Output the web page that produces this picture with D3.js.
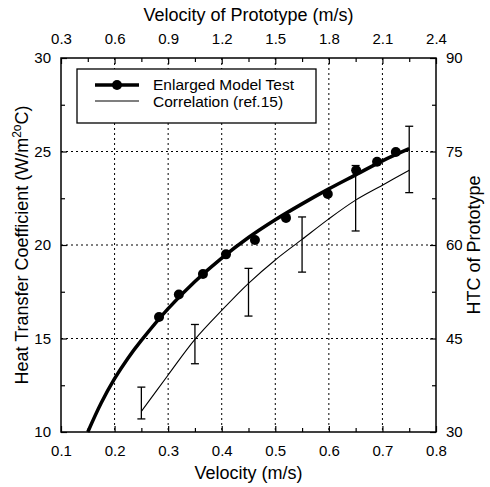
<!DOCTYPE html>
<html lang="en">
<head>
<meta charset="utf-8">
<title>Heat Transfer Coefficient vs Velocity</title>
<script src="https://cdn.jsdelivr.net/npm/d3@7"></script>
<style>
body { margin:0; background:#fff; }
text { font-family: "Liberation Sans", Arial, sans-serif; fill:#000; }
.grid { stroke:#000; stroke-width:1; stroke-dasharray:2,3; }
</style>
</head>
<body>
<div id="main"></div>
<script>

// measured test points (model)
var testV   = [0.283, 0.32, 0.365, 0.408, 0.462, 0.52, 0.598, 0.651, 0.69, 0.725]
var testHTC = [16.15, 17.35, 18.45, 19.5, 20.27, 21.45, 22.73, 24.0, 24.45, 24.97]

// fitted curve through the test data
var fitV   = [0.15, 0.175, 0.2, 0.225, 0.25, 0.3, 0.35, 0.4, 0.45, 0.5, 0.55, 0.6, 0.65, 0.7, 0.75]
var fitHTC = [10.0, 11.55, 12.85, 13.95, 14.9, 16.6, 18.05, 19.3, 20.4, 21.35, 22.2, 23.0, 23.75, 24.5, 25.15]

// correlation (ref.15)
var corV   = [0.25, 0.3, 0.35, 0.4, 0.45, 0.5, 0.55, 0.6, 0.65, 0.7, 0.75]
var corHTC = [11.1, 13.05, 14.95, 16.5, 17.95, 19.2, 20.3, 21.4, 22.4, 23.2, 24.0]

// error bars on the correlation
var errV    = [0.25, 0.35, 0.45, 0.55, 0.65, 0.75]
var errLow  = [10.7, 13.65, 16.2, 18.55, 20.75, 22.8]
var errHigh = [12.4, 15.75, 18.75, 21.5, 24.25, 26.35]

var xTicks = [0.1, 0.2, 0.3, 0.4, 0.5, 0.6, 0.7, 0.8]
var yTicks = [10, 15, 20, 25, 30]
var topTicks = [0.3, 0.6, 0.9, 1.2, 1.5, 1.8, 2.1, 2.4]
var rightTicks = [30, 45, 60, 75, 90]

var W = 490, H = 487
var L = 61, R = 436, T = 58, B = 432

var svg = d3.select("#main").append("svg").attr("width",W).attr("height",H)

var x = d3.scaleLinear().domain([0.1,0.8]).range([L,R])
var y = d3.scaleLinear().domain([10,30]).range([B,T])
var xTop = d3.scaleLinear().domain([0.3,2.4]).range([L,R])
var yRight = d3.scaleLinear().domain([30,90]).range([B,T])

// grid
var gx = [0.2,0.3,0.4,0.5,0.6,0.7]
var gy = [15,20,25]
svg.selectAll("line.gv").data(gx).enter().append("line").attr("class","grid")
  .attr("x1",function(d){return x(d)}).attr("x2",function(d){return x(d)})
  .attr("y1",T).attr("y2",B)
svg.selectAll("line.gh").data(gy).enter().append("line").attr("class","grid")
  .attr("y1",function(d){return y(d)}).attr("y2",function(d){return y(d)})
  .attr("x1",L).attr("x2",R)

// axes
function mids(arr){ var m=[]; for(var i=0;i<arr.length-1;i++) m.push((arr[i]+arr[i+1])/2); return m }

function styleAxis(g){
  g.select(".domain").remove()
  g.selectAll("line").attr("stroke","#000").attr("stroke-width",1.2)
  g.selectAll("text").style("font-size","15px")
}

svg.append("g").attr("transform","translate(0,"+B+")")
  .call(d3.axisBottom(x).tickValues(xTicks).tickSize(-6).tickPadding(13).tickFormat(d3.format(".1f")))
  .call(styleAxis)
svg.append("g").attr("transform","translate(0,"+B+")")
  .call(d3.axisBottom(x).tickValues(mids(xTicks)).tickSize(-4).tickFormat(""))
  .call(styleAxis)

svg.append("g").attr("transform","translate(0,"+T+")")
  .call(d3.axisTop(xTop).tickValues(topTicks).tickSize(-6).tickPadding(14).tickFormat(d3.format(".1f")))
  .call(styleAxis)
svg.append("g").attr("transform","translate(0,"+T+")")
  .call(d3.axisTop(xTop).tickValues(mids(topTicks)).tickSize(-4).tickFormat(""))
  .call(styleAxis)

svg.append("g").attr("transform","translate("+L+",0)")
  .call(d3.axisLeft(y).tickValues(yTicks).tickSize(-6).tickPadding(10))
  .call(styleAxis)
svg.append("g").attr("transform","translate("+L+",0)")
  .call(d3.axisLeft(y).tickValues(mids(yTicks)).tickSize(-4).tickFormat(""))
  .call(styleAxis)

svg.append("g").attr("transform","translate("+R+",0)")
  .call(d3.axisRight(yRight).tickValues(rightTicks).tickSize(-6).tickPadding(10))
  .call(styleAxis)
svg.append("g").attr("transform","translate("+R+",0)")
  .call(d3.axisRight(yRight).tickValues(mids(rightTicks)).tickSize(-4).tickFormat(""))
  .call(styleAxis)

// frame
svg.append("rect").attr("x",L).attr("y",T).attr("width",R-L).attr("height",B-T)
  .attr("fill","none").attr("stroke","#000").attr("stroke-width",1.5)

// titles
svg.append("text").attr("x",(L+R)/2).attr("y",479).attr("text-anchor","middle")
  .style("font-size","18px").text("Velocity (m/s)")
svg.append("text").attr("x",(L+R)/2).attr("y",21).attr("text-anchor","middle")
  .style("font-size","18px").text("Velocity of Prototype (m/s)")

var yt = svg.append("text").attr("transform","translate(28,"+((T+B)/2)+") rotate(-90)")
  .attr("text-anchor","middle").style("font-size","18px")
yt.append("tspan").text("Heat Transfer Coefficient (W/m")
yt.append("tspan").attr("dy",-7).style("font-size","12px").text("2")
yt.append("tspan").attr("dy",0).style("font-size","12px").text("o")
yt.append("tspan").attr("dy",7).text("C)")

svg.append("text").attr("transform","translate(480,"+((T+B)/2)+") rotate(-90)")
  .attr("text-anchor","middle").style("font-size","18px").text("HTC of Prototype")

// curves
var line = d3.line().x(function(d){return x(d[0])}).y(function(d){return y(d[1])}).curve(d3.curveCatmullRom)

var fitData = fitV.map(function(v,i){return [v,fitHTC[i]]})
var corData = corV.map(function(v,i){return [v,corHTC[i]]})

svg.append("path").datum(corData).attr("d",line).attr("fill","none").attr("stroke","#000").attr("stroke-width",1.1)
svg.append("path").datum(fitData).attr("d",line).attr("fill","none").attr("stroke","#000").attr("stroke-width",3.5)

// error bars
var eb = svg.selectAll("g.eb").data(errV).enter().append("g")
eb.append("line").attr("x1",function(d){return x(d)}).attr("x2",function(d){return x(d)})
  .attr("y1",function(d,i){return y(errLow[i])}).attr("y2",function(d,i){return y(errHigh[i])})
  .attr("stroke","#000").attr("stroke-width",1.3)
eb.append("line").attr("x1",function(d){return x(d)-4}).attr("x2",function(d){return x(d)+4})
  .attr("y1",function(d,i){return y(errLow[i])}).attr("y2",function(d,i){return y(errLow[i])})
  .attr("stroke","#000").attr("stroke-width",1.3)
eb.append("line").attr("x1",function(d){return x(d)-4}).attr("x2",function(d){return x(d)+4})
  .attr("y1",function(d,i){return y(errHigh[i])}).attr("y2",function(d,i){return y(errHigh[i])})
  .attr("stroke","#000").attr("stroke-width",1.3)

// markers
svg.selectAll("circle.pt").data(testV).enter().append("circle")
  .attr("cx",function(d){return x(d)}).attr("cy",function(d,i){return y(testHTC[i])})
  .attr("r",5).attr("fill","#000")

// legend
var lg = svg.append("g")
lg.append("rect").attr("x",77).attr("y",69).attr("width",239).attr("height",54)
  .attr("fill","#fff").attr("stroke","#000").attr("stroke-width",1.3)
lg.append("line").attr("x1",95).attr("x2",139).attr("y1",85).attr("y2",85).attr("stroke","#000").attr("stroke-width",3.5)
lg.append("circle").attr("cx",117).attr("cy",85).attr("r",5).attr("fill","#000")
lg.append("line").attr("x1",95).attr("x2",139).attr("y1",101).attr("y2",101).attr("stroke","#000").attr("stroke-width",1.1)
lg.append("text").attr("x",153).attr("y",90).style("font-size","15.5px").text("Enlarged Model Test")
lg.append("text").attr("x",153).attr("y",107).style("font-size","15.5px").text("Correlation (ref.15)")

</script>
</body>
</html>
